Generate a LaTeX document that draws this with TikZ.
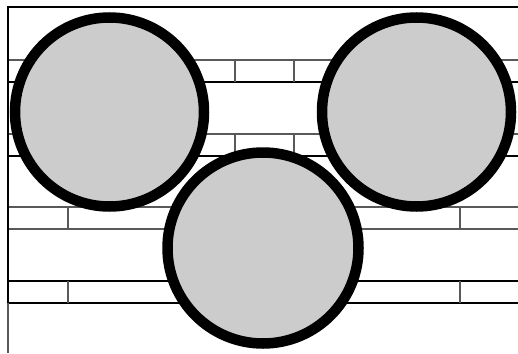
\documentclass[tikz,border=0pt]{standalone}
\begin{document}
\begin{tikzpicture}[x=1pt,y=-1pt,
  blk/.style={line width=2pt,black},
  gry/.style={line width=1.2pt,black!65},
  ball/.style={line width=10.5pt,black,fill=black!20}]
\useasboundingbox (0,0) rectangle (518,353);
\fill[white] (0,0) rectangle (518,353);
% horizontal lines
\draw[blk] (8,7) -- (518,7);
\draw[gry] (8,60) -- (518,60);
\draw[blk] (8,82) -- (518,82);
\draw[gry] (8,134) -- (518,134);
\draw[blk] (8,156) -- (518,156);
\draw[gry] (8,207) -- (518,207);
\draw[gry] (8,229) -- (518,229);
\draw[blk] (8,281) -- (518,281);
\draw[blk] (8,303) -- (518,303);
% verticals
\draw[blk] (8,6) -- (8,303);
\draw[gry] (8,303) -- (8,353);
\draw[gry] (235,60) -- (235,82);
\draw[gry] (294,60) -- (294,82);
\draw[gry] (235,134) -- (235,156);
\draw[gry] (294,134) -- (294,156);
\draw[gry] (68,207) -- (68,229);
\draw[gry] (460,207) -- (460,229);
\draw[gry] (68,281) -- (68,303);
\draw[gry] (460,281) -- (460,303);
% circles
\draw[ball] (109.5,112) circle[radius=94.5];
\draw[ball] (416.5,112) circle[radius=94.5];
\draw[ball] (263,248) circle[radius=95.5];
\end{tikzpicture}
\end{document}
